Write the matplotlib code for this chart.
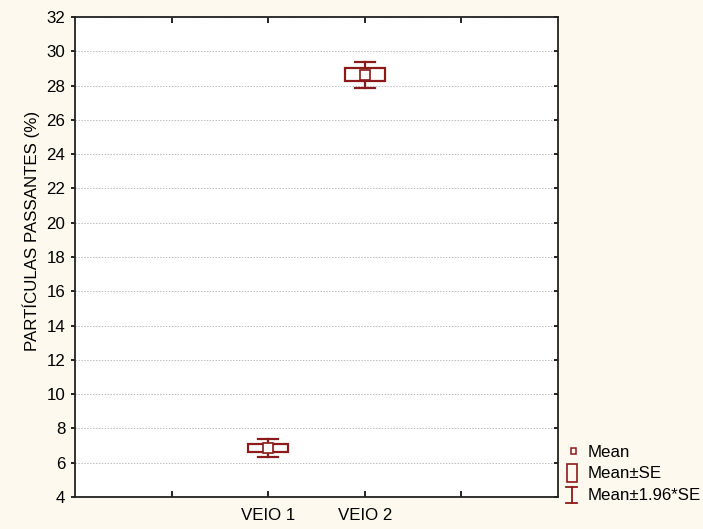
import matplotlib
matplotlib.use("Agg")
import matplotlib.pyplot as plt
from matplotlib.patches import Rectangle
from matplotlib.lines import Line2D

# Group summary statistics
categories = ["VEIO 1", "VEIO 2"]
means = [6.86, 28.62]
std_errors = [0.255, 0.38]
z = 1.96

ylabel = "PARTÍCULAS PASSANTES (%)"
yticks = list(range(4, 33, 2))

dark_red = "#8B1A1A"
bg = "#FEF9EE"
fs = 12.2

plt.rcParams["font.family"] = ["Liberation Sans", "DejaVu Sans"]

fig = plt.figure(figsize=(7.03, 5.29), dpi=100, facecolor=bg)
ax = fig.add_axes([75 / 703, 32 / 529, 483 / 703, 480 / 529])
ax.set_facecolor("white")

positions = [2, 3]
box_w = 0.41
cap_w = 0.21

for x, m, se in zip(positions, means, std_errors):
    lo, hi = m - z * se, m + z * se
    # whisker: mean ± 1.96*SE
    ax.plot([x, x], [lo, m - se], color=dark_red, lw=1.6, zorder=3)
    ax.plot([x, x], [m + se, hi], color=dark_red, lw=1.6, zorder=3)
    ax.plot([x - cap_w / 2, x + cap_w / 2], [lo, lo], color=dark_red, lw=1.6, zorder=3)
    ax.plot([x - cap_w / 2, x + cap_w / 2], [hi, hi], color=dark_red, lw=1.6, zorder=3)
    # box: mean ± SE
    ax.add_patch(Rectangle((x - box_w / 2, m - se), box_w, 2 * se,
                           fill=False, edgecolor=dark_red, lw=1.6, zorder=3))
    # mean marker
    ax.plot([x], [m], marker="s", ms=6.5, mfc="white", mec=dark_red, mew=1.2,
            ls="none", zorder=4)

ax.set_xlim(0, 5)
ax.set_ylim(4, 32)
ax.set_yticks(yticks)
ax.set_xticks([1, 2, 3, 4])
ax.set_xticklabels(["", categories[0], categories[1], ""])
ax.grid(axis="y", color="#BDBDBD", ls=(0, (1.5, 1.5)), lw=0.7)
ax.set_axisbelow(True)

for side in ["left", "bottom", "right", "top"]:
    ax.spines[side].set_linewidth(1.3)
    ax.spines[side].set_color("#222222")

ax.tick_params(axis="y", which="both", left=True, right=True, direction="out",
               length=3, width=1.2, labelsize=fs, pad=4)
ax.tick_params(axis="x", bottom=True, top=True, direction="in",
               length=4, width=1.2, labelsize=fs, pad=8)
for t in ax.yaxis.get_major_ticks():
    t.tick2line.set_marker(matplotlib.lines.TICKLEFT)

fig.text(31 / 703, 1 - 231 / 529, ylabel, rotation=90, ha="center", va="center",
         fontsize=fs)

# Legend drawn beside the axes
ft = fig.transFigure
W, H = 703, 529

def fx(px):
    return px / W

def fy(py):
    return 1 - py / H

fig.add_artist(Rectangle((fx(570.5), fy(453.8)), 5.5 / W, 5.5 / H, transform=ft,
                         fill=False, edgecolor=dark_red, lw=1.1))
fig.text(fx(588), fy(452.5), "Mean", ha="left", va="center", fontsize=fs)

fig.add_artist(Rectangle((fx(566.7), fy(481.7)), 10 / W, 18 / H, transform=ft,
                         fill=False, edgecolor=dark_red, lw=1.2))
fig.text(fx(588), fy(473.5), "Mean±SE", ha="left", va="center", fontsize=fs)

fig.add_artist(Line2D([fx(571.7), fx(571.7)], [fy(487), fy(503)], transform=ft,
                      color=dark_red, lw=1.3))
fig.add_artist(Line2D([fx(566.2), fx(577.2)], [fy(487), fy(487)], transform=ft,
                      color=dark_red, lw=1.3))
fig.add_artist(Line2D([fx(566.2), fx(577.2)], [fy(503), fy(503)], transform=ft,
                      color=dark_red, lw=1.3))
fig.text(fx(588), fy(495.5), "Mean±1.96*SE", ha="left", va="center", fontsize=fs)

fig.savefig("out.png", dpi=100, facecolor=bg)
